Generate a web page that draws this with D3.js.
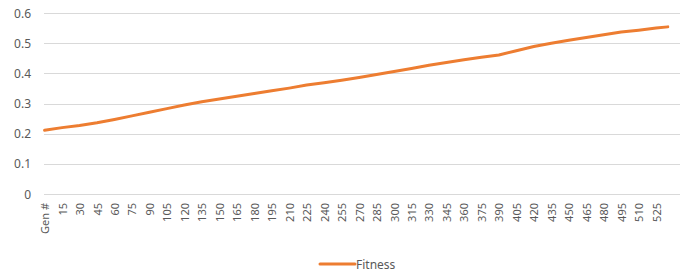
<!DOCTYPE html>
<html>
<head>
<meta charset="utf-8">
<script src="https://cdn.jsdelivr.net/npm/d3@7"></script>
<style>
  html, body { margin: 0; padding: 0; background: #fff; }
  svg text { font-family: "Noto Sans", "Open Sans", sans-serif; fill: #595959; }
</style>
</head>
<body>
<div id="chart"></div>
<script>
'use strict';

// ------------------------------------
// DATA
// ------------------------------------
const genCount = 546; // categories on the axis, first one is the "Gen #" header
const tickLabels = ["Gen #", "15", "30", "45", "60", "75", "90", "105", "120", "135", "150",
  "165", "180", "195", "210", "225", "240", "255", "270", "285", "300", "315", "330",
  "345", "360", "375", "390", "405", "420", "435", "450", "465", "480", "495", "510", "525"];
const tickGens = [0, 15, 30, 45, 60, 75, 90, 105, 120, 135, 150, 165, 180, 195, 210, 225,
  240, 255, 270, 285, 300, 315, 330, 345, 360, 375, 390, 405, 420, 435, 450, 465, 480,
  495, 510, 525];
const gens = [0, 15, 30, 45, 60, 75, 90, 105, 120, 135, 150, 165, 180, 195, 210, 225,
  240, 255, 270, 285, 300, 315, 330, 345, 360, 375, 390, 405, 420, 435, 450, 465, 480,
  495, 510, 525, 535];
const fitness = [0.211, 0.220, 0.227, 0.236, 0.247, 0.259, 0.271, 0.283, 0.295, 0.306,
  0.315, 0.324, 0.333, 0.342, 0.351, 0.361, 0.369, 0.377, 0.386, 0.396, 0.406, 0.416,
  0.427, 0.436, 0.445, 0.453, 0.461, 0.475, 0.489, 0.500, 0.510, 0.519, 0.528, 0.537,
  0.543, 0.550, 0.554];
const yTicks = [0, 0.1, 0.2, 0.3, 0.4, 0.5, 0.6];
const seriesName = "Fitness";

// ------------------------------------
// SETUP
// ------------------------------------
const width = 687;
const height = 276;
const plot = { left: 44, right: 680, top: 13, bottom: 194 };
const orange = "#ED7D31";

const svg = d3.select("#chart").append("svg")
  .attr("width", width)
  .attr("height", height);

const x = d3.scaleLinear().domain([0, genCount]).range([plot.left, plot.right]);
const y = d3.scaleLinear().domain([0, 0.6]).range([plot.bottom, plot.top]);
const xc = g => x(g + 0.5); // category centre

// gridlines
svg.append("g")
  .selectAll("line")
  .data(yTicks)
  .join("line")
  .attr("x1", plot.left)
  .attr("x2", plot.right)
  .attr("y1", d => Math.round(y(d)) + 0.5)
  .attr("y2", d => Math.round(y(d)) + 0.5)
  .attr("stroke", "#d9d9d9")
  .attr("stroke-width", 1);

// y labels
svg.append("g")
  .selectAll("text")
  .data(yTicks)
  .join("text")
  .attr("x", 31)
  .attr("y", d => y(d))
  .attr("text-anchor", "end")
  .attr("dominant-baseline", "central")
  .attr("font-size", 12)
  .text(d => d === 0 ? "0" : d3.format(".1f")(d));

// x labels, rotated
svg.append("g")
  .selectAll("text")
  .data(tickGens)
  .join("text")
  .attr("transform", d => `translate(${xc(d)}, 203) rotate(-90)`)
  .attr("text-anchor", "end")
  .attr("dominant-baseline", "central")
  .attr("font-size", 11)
  .text((d, i) => tickLabels[i]);

// series line
const line = d3.line()
  .x((d, i) => xc(gens[i]))
  .y(d => y(d));

svg.append("path")
  .datum(fitness)
  .attr("fill", "none")
  .attr("stroke", orange)
  .attr("stroke-width", 3)
  .attr("stroke-linecap", "round")
  .attr("stroke-linejoin", "round")
  .attr("d", line);

// legend
const legend = svg.append("g").attr("transform", "translate(320, 264)");
legend.append("line")
  .attr("x1", 0).attr("x2", 35)
  .attr("stroke", orange)
  .attr("stroke-width", 3)
  .attr("stroke-linecap", "round");
legend.append("text")
  .attr("x", 36)
  .attr("y", 0)
  .attr("dominant-baseline", "central")
  .attr("font-size", 12)
  .text(seriesName);
</script>
</body>
</html>
